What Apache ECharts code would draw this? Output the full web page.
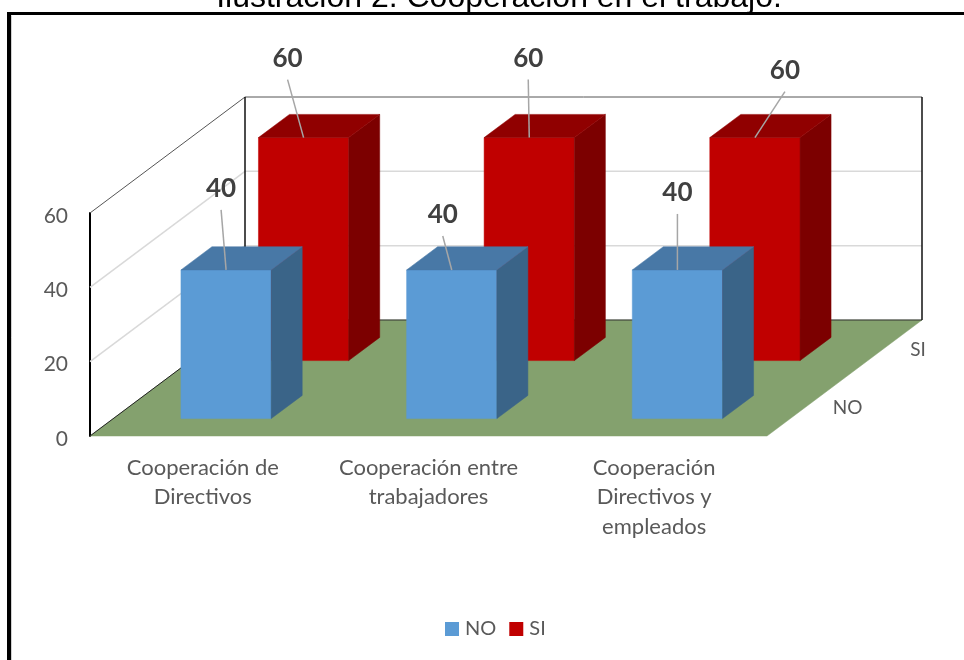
<!DOCTYPE html>
<html>
<head>
<meta charset="utf-8">
<style>html,body{margin:0;padding:0;background:#fff}#c{width:964px;height:660px}</style>
<script src="https://cdn.jsdelivr.net/npm/echarts@6/dist/echarts.min.js"></script>
</head>
<body>
<div id="c"></div>
<script>
const titleText = 'Ilustración 2. Cooperación en el trabajo.';
const categories = ['Cooperación de\nDirectivos', 'Cooperación entre\ntrabajadores', 'Cooperación\nDirectivos y\nempleados'];
const depthRows = ['NO', 'SI'];
const noValues = [40, 40, 40];
const siValues = [60, 60, 60];
const yTicks = [0, 20, 40, 60];

// label displacement from the top-front centre of each bar
const noLabelShift = [[-5, -81], [-9, -55], [0, -77]];
const siLabelShift = [[-16, -79], [-1, -79], [30, -67]];

const FONT = 'Lato, Carlito, "Open Sans", sans-serif';
const DEPTH_X = 155, DEPTH_Y = -116;     // oblique vector of the full floor depth
const BAR_RATIO = 0.4;                   // bar width / category band
const ROW_INSET = 0.15, ROW_DEPTH = 0.2; // bar depth, as part of a half-floor row

function shift(p, f) { return [p[0] + DEPTH_X * f, p[1] + DEPTH_Y * f]; }
function poly(points, fill) {
  return { type: 'polygon', shape: { points }, style: { fill, stroke: fill, lineWidth: 0.5 } };
}
function seg(a, b, stroke, lineWidth) {
  return { type: 'line', shape: { x1: a[0], y1: a[1], x2: b[0], y2: b[1] }, style: { stroke, lineWidth, fill: null } };
}

function structure(params, api) {
  const cs = params.coordSys;
  const left = cs.x, right = cs.x + cs.width;
  const yOf = v => api.coord([0, v])[1];
  const y0 = yOf(0), yMax = yOf(yTicks[yTicks.length - 1]);
  const kids = [];
  kids.push(poly([[left, y0], [right, y0], shift([right, y0], 1), shift([left, y0], 1)], '#84A16E'));
  yTicks.slice(1, -1).forEach(v => {
    const a = [left, yOf(v)], b = shift(a, 1), c = shift([right, yOf(v)], 1);
    kids.push(seg(a, b, '#d9d9d9', 1.5), seg(b, c, '#d9d9d9', 1.5));
  });
  const tl = [left, yMax], bl = shift(tl, 1), tr = shift([right, yMax], 1);
  const fl = shift([left, y0], 1), fr = shift([right, y0], 1);
  kids.push(seg(tl, bl, '#555', 1), seg(bl, tr, '#555', 1), seg(fl, fr, '#333', 1));
  kids.push(seg([left, y0], fl, '#222', 1));
  kids.push(seg(bl, fl, '#111', 1.5), seg(tr, fr, '#111', 1.5));
  depthRows.forEach((name, i) => {
    const p = shift([right, y0], (i + 0.5) / depthRows.length);
    kids.push({ type: 'text', style: { text: name, x: p[0] + 27, y: p[1] + 1, align: 'left', verticalAlign: 'middle', font: '19px ' + FONT, fill: '#595959' } });
  });
  return { type: 'group', children: kids };
}

function barRenderer(row, colors, shifts) {
  return function (params, api) {
    const i = api.value(0), v = api.value(1);
    const half = api.size([1, 0])[0] * BAR_RATIO / 2;
    const f0 = row * 0.5 + ROW_INSET, f1 = f0 + ROW_DEPTH;
    const base = api.coord([i, 0]), top = api.coord([i, v]);
    const fbl = shift([base[0] - half, base[1]], f0), fbr = shift([base[0] + half, base[1]], f0);
    const ftl = shift([top[0] - half, top[1]], f0), ftr = shift([top[0] + half, top[1]], f0);
    const btl = shift([top[0] - half, top[1]], f1), btr = shift([top[0] + half, top[1]], f1);
    const bbr = shift([base[0] + half, base[1]], f1);
    const anchor = shift(top, f0);
    const s = shifts[i];
    const lx = anchor[0] + s[0], ly = anchor[1] + s[1];
    return {
      type: 'group', children: [
        poly([ftl, ftr, fbr, fbl], colors.front),
        poly([ftr, btr, bbr, fbr], colors.side),
        poly([ftl, btl, btr, ftr], colors.top),
        seg([lx, ly + 21], anchor, '#a6a6a6', 1.5),
        { type: 'text', style: { text: String(v), x: lx, y: ly, align: 'center', verticalAlign: 'middle', font: 'bold 26px ' + FONT, fill: '#404040' } }
      ]
    };
  };
}

const chart = echarts.init(document.getElementById('c'), null, { renderer: 'canvas' });
chart.setOption({
  animation: false,
  backgroundColor: '#fff',
  title: {
    text: titleText, left: 494, textAlign: 'center', top: -23,
    textStyle: { fontFamily: '"Liberation Sans", Arial, sans-serif', fontWeight: 'normal', fontSize: 32, color: '#000' }
  },
  graphic: [
    { type: 'line', z: 100, silent: true, shape: { x1: 9, y1: 660, x2: 9, y2: 13.5 }, style: { stroke: '#000', lineWidth: 4 } },
    { type: 'line', z: 100, silent: true, shape: { x1: 7, y1: 13.5, x2: 964, y2: 13.5 }, style: { stroke: '#000', lineWidth: 3 } },
    { type: 'line', z: 99, silent: true, shape: { x1: 11.5, y1: 660, x2: 11.5, y2: 15.5 }, style: { stroke: '#d0d0d0', lineWidth: 1 } }
  ],
  legend: {
    data: depthRows, left: 440, top: 614, icon: 'rect', itemWidth: 14, itemHeight: 14, itemGap: 13,
    textStyle: { fontFamily: FONT, fontSize: 20, color: '#595959', padding: [0, 0, 0, 1] }
  },
  grid: { left: 90, top: 213, width: 677, height: 223, containLabel: false },
  xAxis: {
    type: 'category', data: categories,
    axisLine: { show: false }, axisTick: { show: false }, splitLine: { show: false },
    axisLabel: { margin: 17, fontFamily: FONT, fontSize: 22, color: '#595959', lineHeight: 29.5, interval: 0 }
  },
  yAxis: {
    type: 'value', min: 0, max: 60, interval: 20,
    axisLine: { show: true, lineStyle: { color: '#000', width: 2 } }, axisTick: { show: false }, splitLine: { show: false },
    axisLabel: { margin: 22, fontFamily: FONT, fontSize: 21, color: '#595959', verticalAlign: 'top', lineHeight: 6 }
  },
  series: [
    { type: 'custom', name: 'estructura', data: [[0, 0]], renderItem: structure, silent: true, z: 1 },
    { type: 'custom', name: depthRows[1], data: siValues.map((v, i) => [i, v]), itemStyle: { color: '#C00000' }, z: 2,
      renderItem: barRenderer(1, { front: '#C00000', side: '#7C0000', top: '#900000' }, siLabelShift) },
    { type: 'custom', name: depthRows[0], data: noValues.map((v, i) => [i, v]), itemStyle: { color: '#5B9BD5' }, z: 3,
      renderItem: barRenderer(0, { front: '#5B9BD5', side: '#3A6488', top: '#4878A6' }, noLabelShift) }
  ]
});
</script>
</body>
</html>
